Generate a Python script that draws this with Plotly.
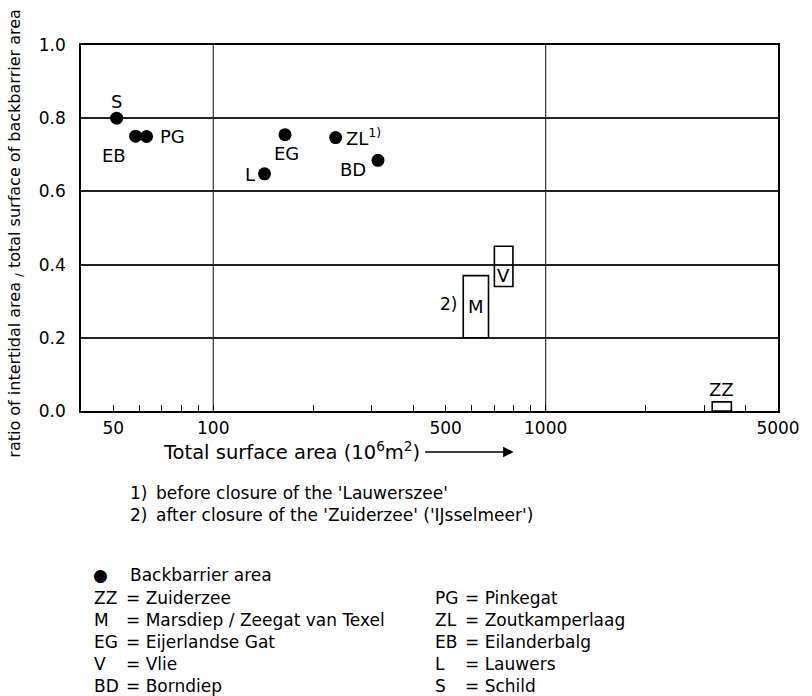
import math
import plotly.graph_objects as go

# Backbarrier areas: total surface area (10^6 m^2) and intertidal ratio
pt_codes = ["S", "EB", "PG", "L", "EG", "ZL", "BD"]
pt_area = [51.2, 58.4, 63.0, 142.6, 164.4, 233.4, 313.0]
pt_ratio = [0.800, 0.751, 0.750, 0.648, 0.755, 0.747, 0.685]

# Inlets given as a range of values (drawn as boxes)
box_codes = ["M", "V", "ZZ"]
box_area_lo = [565, 701, 3170]
box_area_hi = [673, 797, 3620]
box_ratio_lo = [0.20, 0.34, 0.0]
box_ratio_hi = [0.37, 0.45, 0.025]

# Axis ticks
x_tick_vals = [50, 100, 500, 1000, 5000]
x_tick_text = ["50", "100", "500", "1000", "5000"]
x_minor_vals = [60, 70, 80, 90, 200, 300, 400, 600, 700, 800, 900, 2000, 3000, 4000]
x_grid_vals = [100, 1000]
y_tick_vals = [0.0, 0.2, 0.4, 0.6, 0.8, 1.0]

# Footnotes and key
notes = [("1)", "before closure of the 'Lauwerszee'"),
         ("2)", "after closure of the 'Zuiderzee' ('IJsselmeer')")]
key_left = [("ZZ", "= Zuiderzee"), ("M", "= Marsdiep / Zeegat van Texel"),
            ("EG", "= Eijerlandse Gat"), ("V", "= Vlie"), ("BD", "= Borndiep")]
key_right = [("PG", "= Pinkegat"), ("ZL", "= Zoutkamperlaag"),
             ("EB", "= Eilanderbalg"), ("L", "= Lauwers"), ("S", "= Schild")]

FONT = "DejaVu Sans, Verdana, sans-serif"
FS_TEXT = 17
FS_TICK = 17
FS_LABEL = 18
W_FIG, H_FIG = 812, 696
M_L, M_R, M_T, M_B = 81, 27, 45, 285
PW = W_FIG - M_L - M_R
PH = H_FIG - M_T - M_B


def paper_x(px):
    return (px - M_L) / PW


def paper_y(py):
    return (H_FIG - M_B - py) / PH


def font(size):
    return dict(size=size, color="black", family=FONT)


fig = go.Figure()

fig.add_trace(go.Scatter(
    x=pt_area, y=pt_ratio, mode="markers",
    marker=dict(color="black", size=13, line=dict(width=0)),
    showlegend=False, hoverinfo="skip",
))

# label placement per point: (xanchor, xshift, yshift)
pt_label_style = {
    "S": ("center", 0, 17),
    "EB": ("center", -22, -19),
    "PG": ("left", 11, 0),
    "L": ("right", -8, -1),
    "EG": ("center", 1, -19),
    "ZL": ("left", 8, 1),
    "BD": ("right", -10, -9),
}

annotations = []
for code, xa, ya in zip(pt_codes, pt_area, pt_ratio):
    anchor, dx, dy = pt_label_style[code]
    text = "ZL<sup>1)</sup>" if code == "ZL" else code
    annotations.append(dict(
        x=math.log10(xa), y=ya, xref="x", yref="y", text=text, showarrow=False,
        xanchor=anchor, yanchor="middle", xshift=dx, yshift=dy, font=font(FS_LABEL),
    ))

shapes = []
for code, x0, x1, y0, y1 in zip(box_codes, box_area_lo, box_area_hi,
                                box_ratio_lo, box_ratio_hi):
    shapes.append(dict(
        type="rect", xref="x", yref="y", x0=x0, x1=x1, y0=y0, y1=y1,
        line=dict(color="black", width=1.6), fillcolor="rgba(0,0,0,0)",
    ))
    xc = (math.log10(x0) + math.log10(x1)) / 2
    if code == "M":
        annotations.append(dict(x=xc, y=(y0 + y1) / 2, xref="x", yref="y",
                                text="M", showarrow=False, yanchor="middle",
                                font=font(FS_LABEL)))
        annotations.append(dict(x=math.log10(x0), y=(y0 + y1) / 2, xref="x", yref="y",
                                text="2)", showarrow=False, xanchor="right",
                                yanchor="middle", xshift=-4, yshift=3,
                                font=font(FS_TICK)))
    elif code == "V":
        annotations.append(dict(x=xc, y=y0, xref="x", yref="y", text="V",
                                showarrow=False, yanchor="middle", yshift=11,
                                font=font(FS_LABEL)))
    else:
        annotations.append(dict(x=xc, y=y1, xref="x", yref="y", text=code,
                                showarrow=False, yanchor="middle", yshift=12,
                                font=font(FS_LABEL)))

# vertical grid lines at the decades
for gv in x_grid_vals:
    shapes.append(dict(type="line", xref="x", yref="paper", x0=gv, x1=gv, y0=0, y1=1,
                       line=dict(color="#333333", width=1.2), layer="below"))

# x-axis title with arrow
annotations.append(dict(
    x=paper_x(162), y=paper_y(451), xref="paper", yref="paper",
    text="Total surface area (10<sup>6</sup>m<sup>2</sup>)", showarrow=False,
    xanchor="left", yanchor="middle", font=font(19.5),
))
annotations.append(dict(
    x=paper_x(518), y=paper_y(452), xref="paper", yref="paper", text="",
    showarrow=True, ax=-90, ay=0, arrowhead=2, arrowsize=1.4, arrowwidth=1.5,
    arrowcolor="black", standoff=0,
))

# y-axis title
annotations.append(dict(
    x=paper_x(14), y=paper_y(233), xref="paper", yref="paper",
    text="ratio of intertidal area <sub>/</sub> total surface of backbarrier area",
    showarrow=False, textangle=-90, xanchor="center", yanchor="middle",
    font=font(16),
))

# footnotes
for i, (num, txt) in enumerate(notes):
    yy = paper_y(493 + 22 * i)
    annotations.append(dict(x=paper_x(128), y=yy, xref="paper", yref="paper",
                            text=num, showarrow=False, xanchor="left",
                            yanchor="middle", font=font(FS_TEXT)))
    annotations.append(dict(x=paper_x(155), y=yy, xref="paper", yref="paper",
                            text=txt, showarrow=False, xanchor="left",
                            yanchor="middle", font=font(FS_TEXT)))

# key
annotations.append(dict(x=paper_x(101), y=paper_y(575), xref="paper", yref="paper",
                        text="●", showarrow=False, xanchor="center", yanchor="middle",
                        font=font(17)))
annotations.append(dict(x=paper_x(128), y=paper_y(575), xref="paper", yref="paper",
                        text="Backbarrier area", showarrow=False, xanchor="left",
                        yanchor="middle", font=font(FS_TEXT)))
for col, (xc, xe) in zip([key_left, key_right], [(92, 124), (437, 467)]):
    for i, (code, txt) in enumerate(col):
        yy = paper_y(598 + 22 * i)
        annotations.append(dict(x=paper_x(xc), y=yy, xref="paper", yref="paper",
                                text=code, showarrow=False, xanchor="left",
                                yanchor="middle", font=font(FS_TEXT)))
        annotations.append(dict(x=paper_x(xe), y=yy, xref="paper", yref="paper",
                                text=txt, showarrow=False, xanchor="left",
                                yanchor="middle", font=font(FS_TEXT)))

fig.update_layout(
    width=W_FIG, height=H_FIG,
    margin=dict(l=M_L, r=M_R, t=M_T, b=M_B, pad=0),
    paper_bgcolor="white", plot_bgcolor="white",
    font=dict(family=FONT, size=FS_TICK, color="black"),
    showlegend=False,
    shapes=shapes, annotations=annotations,
    xaxis=dict(
        type="log", range=[math.log10(40), math.log10(5000)],
        tickmode="array", tickvals=x_tick_vals, ticktext=x_tick_text,
        ticks="inside", ticklen=6, tickwidth=1.2, tickcolor="black",
        ticklabelstandoff=1,
        minor=dict(tickmode="array", tickvals=x_minor_vals, ticks="inside",
                   ticklen=6, tickwidth=1.2, tickcolor="black", showgrid=False),
        showgrid=False, zeroline=False,
        showline=True, linecolor="black", linewidth=1.6, mirror=True,
        tickfont=font(FS_TICK),
    ),
    yaxis=dict(
        range=[0, 1.0], tickmode="array", tickvals=y_tick_vals, tickformat=".1f",
        ticks="", showgrid=True, gridcolor="#222222", gridwidth=1.5,
        zeroline=False, showline=True, linecolor="black", linewidth=1.6, mirror=True,
        ticklabelstandoff=10,
        tickfont=font(FS_TICK),
    ),
)

fig.write_html("out.html")
